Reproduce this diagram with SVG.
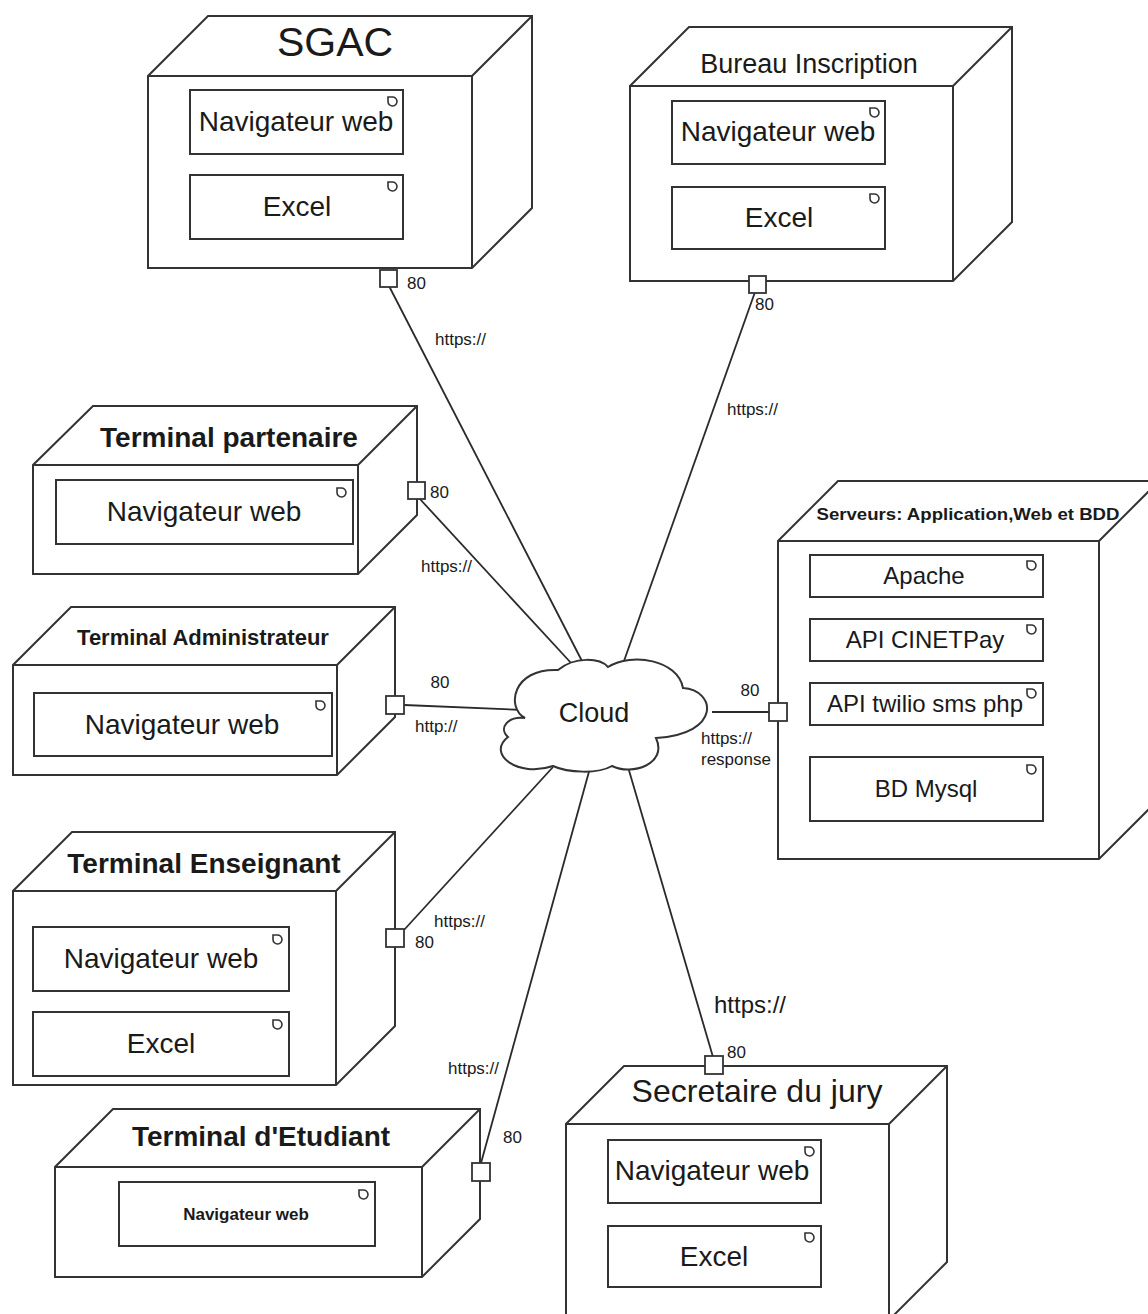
<svg xmlns="http://www.w3.org/2000/svg" xmlns:xlink="http://www.w3.org/1999/xlink" width="1148" height="1314" viewBox="0 0 1148 1314">
  <style>
    .box { fill: #fff; stroke: #333; stroke-width: 2; stroke-linejoin: miter; }
    .comp { fill: #fff; stroke: #333; stroke-width: 2; }
    .port { fill: #fff; stroke: #333; stroke-width: 1.8; }
    .wire { fill: none; stroke: #2a2a2a; stroke-width: 1.8; }
    .cloud { fill: #fff; stroke: #333; stroke-width: 2; }
    text { font-family: "Liberation Sans", Arial, sans-serif; fill: #1a1a1a; }
    .t28 { font-size: 28px; text-anchor: middle; }
    .t23 { font-size: 24px; text-anchor: middle; }
    .title { text-anchor: middle; }
    .bold { font-weight: bold; }
    .lbl { font-size: 17px; }
  </style>
  <defs>
    <!-- small component glyph shown in the top-right of each artifact box -->
    <path id="ci" d="M0,0 H4 A4.5,4.5 0 1 1 0,4.5 Z" fill="#fff" stroke="#333" stroke-width="1.6"/>
  </defs>

  <!-- connectors -->
  <g id="connectors">
    <line class="wire" x1="389" y1="286" x2="583" y2="663"/>
    <line class="wire" x1="755" y1="292" x2="624" y2="661"/>
    <line class="wire" x1="419" y1="498" x2="572" y2="664"/>
    <line class="wire" x1="404" y1="705" x2="524" y2="710"/>
    <line class="wire" x1="712" y1="712" x2="769" y2="712"/>
    <line class="wire" x1="404" y1="930" x2="553" y2="767"/>
    <line class="wire" x1="481" y1="1163" x2="590" y2="768"/>
    <line class="wire" x1="628" y1="767" x2="713" y2="1057"/>
  </g>

  <!-- SGAC -->
  <g id="sgac">
    <path class="box" d="M148,268 V76 L208,16 H532 V208 L472,268 Z M148,76 H472 V268 M472,76 L532,16"/>
    <text class="title" x="335" y="56" font-size="41">SGAC</text>
    <rect class="comp" x="190" y="90" width="213" height="64"/>
    <use xlink:href="#ci" x="388" y="97"/>
    <text class="t28" x="296" y="131">Navigateur web</text>
    <rect class="comp" x="190" y="175" width="213" height="64"/>
    <use xlink:href="#ci" x="388" y="182"/>
    <text class="t28" x="297" y="216">Excel</text>
    <rect class="port" x="380" y="270" width="17" height="17"/>
    <text class="lbl" x="407" y="289">80</text>
  </g>

  <!-- Bureau Inscription -->
  <g id="bureau">
    <path class="box" d="M630,281 V86 L689,27 H1012 V222 L953,281 Z M630,86 H953 V281 M953,86 L1012,27"/>
    <text class="title" x="809" y="73" font-size="27">Bureau Inscription</text>
    <rect class="comp" x="672" y="101" width="213" height="63"/>
    <use xlink:href="#ci" x="870" y="108"/>
    <text class="t28" x="778" y="141">Navigateur web</text>
    <rect class="comp" x="672" y="187" width="213" height="62"/>
    <use xlink:href="#ci" x="870" y="194"/>
    <text class="t28" x="779" y="227">Excel</text>
    <rect class="port" x="749" y="276" width="17" height="17"/>
    <text class="lbl" x="755" y="310">80</text>
  </g>

  <!-- Terminal partenaire -->
  <g id="partenaire">
    <path class="box" d="M33,574 V465 L93,406 H417 V515 L358,574 Z M33,465 H358 V574 M358,465 L417,406"/>
    <text class="title bold" x="229" y="447" font-size="28">Terminal partenaire</text>
    <rect class="comp" x="56" y="480" width="297" height="64"/>
    <use xlink:href="#ci" x="337" y="488"/>
    <text class="t28" x="204" y="521">Navigateur web</text>
    <rect class="port" x="408" y="482" width="17" height="17"/>
    <text class="lbl" x="430" y="498">80</text>
  </g>

  <!-- Terminal Administrateur -->
  <g id="administrateur">
    <path class="box" d="M13,775 V665 L71,607 H395 V717 L337,775 Z M13,665 H337 V775 M337,665 L395,607"/>
    <text class="title bold" x="203" y="645" font-size="22">Terminal Administrateur</text>
    <rect class="comp" x="34" y="693" width="298" height="63"/>
    <use xlink:href="#ci" x="316" y="701"/>
    <text class="t28" x="182" y="734">Navigateur web</text>
    <rect class="port" x="386" y="696" width="18" height="18"/>
    <text class="lbl" x="440" y="688" text-anchor="middle">80</text>
    <text class="lbl" x="415" y="732">http://</text>
  </g>

  <!-- Serveurs -->
  <g id="serveurs">
    <path class="box" d="M778,859 V541 L838,481 H1159 V799 L1099,859 Z M778,541 H1099 V859 M1099,541 L1159,481"/>
    <text class="title bold" x="968" y="520" font-size="17" textLength="303" lengthAdjust="spacingAndGlyphs">Serveurs: Application,Web et BDD</text>
    <rect class="comp" x="810" y="555" width="233" height="42"/>
    <use xlink:href="#ci" x="1027" y="561"/>
    <text class="t23" x="924" y="584">Apache</text>
    <rect class="comp" x="810" y="619" width="233" height="42"/>
    <use xlink:href="#ci" x="1027" y="625"/>
    <text class="t23" x="925" y="648">API CINETPay</text>
    <rect class="comp" x="810" y="683" width="233" height="42"/>
    <use xlink:href="#ci" x="1027" y="689"/>
    <text class="t23" x="925" y="712">API twilio sms php</text>
    <rect class="comp" x="810" y="757" width="233" height="64"/>
    <use xlink:href="#ci" x="1027" y="765"/>
    <text class="t23" x="926" y="797">BD Mysql</text>
    <rect class="port" x="769" y="703" width="18" height="18"/>
    <text class="lbl" x="750" y="696" text-anchor="middle">80</text>
    <text class="lbl" x="701" y="744">https://</text>
    <text class="lbl" x="701" y="765">response</text>
  </g>

  <!-- Terminal Enseignant -->
  <g id="enseignant">
    <path class="box" d="M13,1085 V891 L72,832 H395 V1026 L336,1085 Z M13,891 H336 V1085 M336,891 L395,832"/>
    <text class="title bold" x="204" y="873" font-size="28">Terminal Enseignant</text>
    <rect class="comp" x="33" y="927" width="256" height="64"/>
    <use xlink:href="#ci" x="273" y="935"/>
    <text class="t28" x="161" y="968">Navigateur web</text>
    <rect class="comp" x="33" y="1012" width="256" height="64"/>
    <use xlink:href="#ci" x="273" y="1020"/>
    <text class="t28" x="161" y="1053">Excel</text>
    <rect class="port" x="386" y="929" width="18" height="18"/>
    <text class="lbl" x="415" y="948">80</text>
    <text class="lbl" x="434" y="927">https://</text>
  </g>

  <!-- Terminal d'Etudiant -->
  <g id="etudiant">
    <path class="box" d="M55,1277 V1167 L113,1109 H480 V1219 L422,1277 Z M55,1167 H422 V1277 M422,1167 L480,1109"/>
    <text class="title bold" x="261" y="1146" font-size="28">Terminal d'Etudiant</text>
    <rect class="comp" x="119" y="1182" width="256" height="64"/>
    <use xlink:href="#ci" x="359" y="1190"/>
    <text class="bold" x="246" y="1220" font-size="17" text-anchor="middle">Navigateur web</text>
    <rect class="port" x="472" y="1163" width="18" height="18"/>
    <text class="lbl" x="503" y="1143">80</text>
    <text class="lbl" x="448" y="1074">https://</text>
  </g>

  <!-- Secretaire du jury -->
  <g id="secretaire">
    <path class="box" d="M566,1344 V1124 L624,1066 H947 V1262 L889,1320 M566,1124 H889 V1344 M889,1124 L947,1066"/>
    <text class="title" x="757" y="1102" font-size="32">Secretaire du jury</text>
    <rect class="comp" x="608" y="1140" width="213" height="63"/>
    <use xlink:href="#ci" x="805" y="1147"/>
    <text class="t28" x="712" y="1180">Navigateur web</text>
    <rect class="comp" x="608" y="1226" width="213" height="61"/>
    <use xlink:href="#ci" x="805" y="1233"/>
    <text class="t28" x="714" y="1266">Excel</text>
    <rect class="port" x="705" y="1056" width="18" height="18"/>
    <text class="lbl" x="727" y="1058">80</text>
    <text x="714" y="1013" font-size="24">https://</text>
  </g>

  <!-- Cloud -->
  <g id="cloud">
    <path class="cloud" d="M525,718 C506,708 512,668 558,670 C575,656 600,658 608,667 C632,652 678,660 683,688 C716,690 722,734 656,738 C668,764 632,776 612,766 C598,774 568,773 553,766 C518,778 486,754 508,737 C498,728 508,716 525,718 Z"/>
    <text x="594" y="722" font-size="27" text-anchor="middle">Cloud</text>
  </g>

  <!-- connector labels -->
  <g id="connector-labels">
    <text class="lbl" x="435" y="345">https://</text>
    <text class="lbl" x="727" y="415">https://</text>
    <text class="lbl" x="421" y="572">https://</text>
  </g>
</svg>
